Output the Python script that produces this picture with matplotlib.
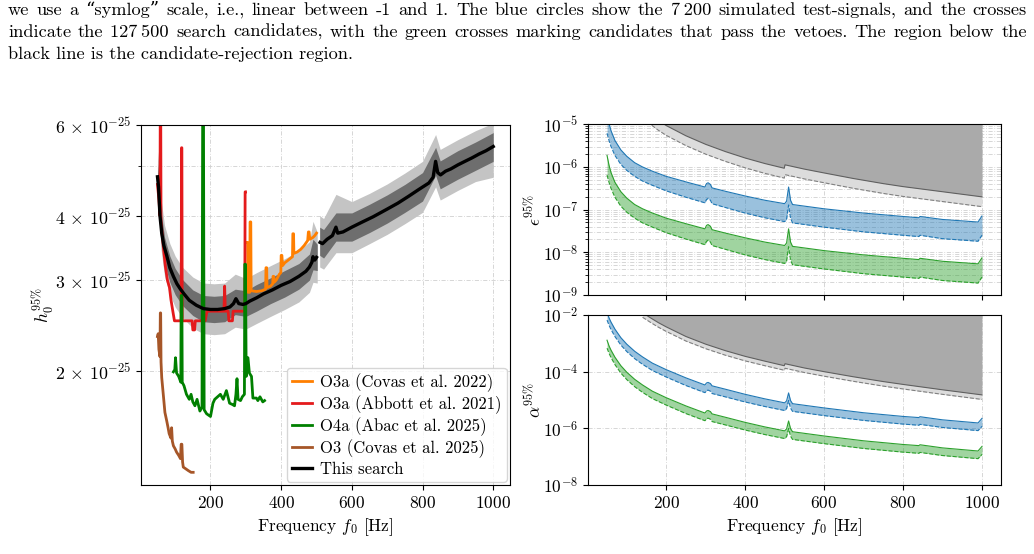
import numpy as np
import matplotlib
matplotlib.use('Agg')
import matplotlib.pyplot as plt
from matplotlib import rcParams
from matplotlib.ticker import FixedLocator, NullFormatter, NullLocator, LogLocator

rcParams['font.family'] = ['cmr10', 'DejaVu Serif']
rcParams['mathtext.fontset'] = 'cm'
rcParams['axes.formatter.use_mathtext'] = True
rcParams['axes.unicode_minus'] = False

W, H = 1034, 554

# ---- caption text above the figure ----
caption = [
    'we use a \u201csymlog\u201d scale, i.e., linear between -1 and 1. The blue circles show the 7\u2009200 simulated test-signals, and the crosses',
    'indicate the 127\u2009500 search candidates, with the green crosses marking candidates that pass the vetoes. The region below the',
    'black line is the candidate-rejection region.',
]

# ---- left panel: h0 upper limits (units of 1e-25) ----
f_black_a = [50, 53, 57, 62, 68, 76, 85, 95, 105, 115, 125, 140, 160, 180, 200, 220, 240, 255, 265, 272,
             280, 292, 300, 311, 330, 350, 375, 400, 425, 450, 470, 480, 487, 490, 495, 500]
h_black_a = [4.76, 4.55, 4.0, 3.7, 3.5, 3.35, 3.17, 3.05, 2.95, 2.88, 2.82, 2.74, 2.68, 2.64, 2.63, 2.63, 2.64, 2.66, 2.70, 2.76,
             2.70, 2.69, 2.70, 2.73, 2.77, 2.82, 2.87, 2.93, 2.98, 3.05, 3.12, 3.18, 3.25, 3.33, 3.28, 3.32]
f_black_b = [510, 517, 530, 545, 555, 560, 575, 600, 630, 660, 700, 730, 760, 790, 818, 830, 837, 843, 851,
             865, 880, 900, 920, 940, 960, 980, 1000]
h_black_b = [3.55, 3.53, 3.6, 3.66, 3.8, 3.7, 3.72, 3.8, 3.89, 3.98, 4.12, 4.23, 4.36, 4.5, 4.63, 4.75, 5.1, 4.85, 4.8,
             4.88, 4.93, 5.02, 5.1, 5.18, 5.27, 5.35, 5.45]

f_band_a = [50, 55, 60, 70, 85, 100, 120, 150, 180, 210, 240, 270, 300, 330, 370, 410, 450, 480, 490, 502]
light_hi_a = [5.33, 4.93, 4.31, 3.83, 3.53, 3.34, 3.18, 3.04, 2.96, 2.95, 2.96, 3.08, 3.02, 3.10, 3.20, 3.30, 3.42, 3.56, 3.90, 3.72]
light_lo_a = [4.25, 3.93, 3.44, 3.05, 2.81, 2.66, 2.54, 2.42, 2.36, 2.35, 2.36, 2.43, 2.41, 2.47, 2.55, 2.63, 2.72, 2.84, 2.97, 2.96]
dark_hi_a = [5.05, 4.66, 4.08, 3.63, 3.34, 3.16, 3.01, 2.87, 2.80, 2.79, 2.80, 2.88, 2.86, 2.94, 3.03, 3.13, 3.23, 3.37, 3.60, 3.52]
dark_lo_a = [4.49, 4.15, 3.63, 3.23, 2.97, 2.81, 2.68, 2.56, 2.49, 2.48, 2.49, 2.57, 2.55, 2.61, 2.70, 2.78, 2.88, 3.00, 3.14, 3.13]
f_band_b = [509, 520, 555, 600, 650, 700, 750, 800, 837, 850, 900, 950, 1000]
light_hi_b = [4.00, 3.95, 4.40, 4.26, 4.42, 4.61, 4.84, 5.10, 5.75, 5.38, 5.62, 5.85, 6.05]
light_lo_b = [3.18, 3.15, 3.39, 3.39, 3.53, 3.68, 3.86, 4.06, 4.55, 4.29, 4.48, 4.66, 4.75]
dark_hi_b = [3.80, 3.76, 4.05, 4.05, 4.21, 4.39, 4.60, 4.85, 5.43, 5.11, 5.35, 5.56, 5.80]
dark_lo_b = [3.35, 3.31, 3.57, 3.57, 3.71, 3.87, 4.06, 4.27, 4.79, 4.51, 4.71, 4.90, 5.10]

f_o3a_covas = [303, 305, 306, 311, 312, 314, 315, 330, 345, 356, 357, 359, 360, 370, 376, 377, 379, 380, 386, 395,
               399, 400, 402, 404, 410, 420, 432, 433, 435, 436, 445, 455, 465, 475, 477, 479, 481, 490, 495, 500]
h_o3a_covas = [3.55, 3.55, 2.84, 2.84, 3.89, 3.89, 2.86, 2.85, 2.86, 2.88, 3.17, 3.17, 2.90, 2.92, 2.95, 3.05, 3.05, 2.97, 3.0, 3.08,
               3.10, 3.35, 3.35, 3.20, 3.24, 3.28, 3.33, 3.69, 3.69, 3.38, 3.40, 3.44, 3.50, 3.58, 3.72, 3.72, 3.60, 3.63, 3.66, 3.70]

f_o3a_abbott = [50, 54, 57, 58, 59, 60, 63, 67, 72, 78, 84, 88, 93, 98, 117, 118, 119, 120, 148, 150,
                155, 157, 185, 190, 238, 240, 242, 250, 252, 262, 264, 297, 298, 299]
h_o3a_abbott = [4.6, 4.3, 4.0, 7.0, 7.0, 3.9, 3.7, 3.45, 3.2, 3.0, 2.9, 2.75, 2.62, 2.5, 2.5, 5.42, 5.42, 2.5, 2.5, 2.4,
                2.4, 2.5, 2.5, 2.61, 2.61, 2.92, 2.61, 2.61, 2.5, 2.5, 2.61, 2.61, 4.45, 4.45]

f_o4a = [95, 99, 101, 104, 110, 116, 117, 119, 120, 125, 132, 140, 145, 150, 156, 162, 170, 176, 178, 180,
         182, 189, 200, 207, 212, 220, 228, 236, 245, 254, 262, 268, 272, 275, 278, 285, 290, 296, 297, 299,
         301, 306, 310, 316, 320, 330, 334, 340, 348, 353]
h_o4a = [1.99, 2.01, 2.12, 1.98, 1.95, 1.90, 2.80, 2.80, 1.90, 1.87, 1.80, 1.76, 1.80, 1.74, 1.71, 1.76, 1.67, 1.70, 7.0, 7.0,
         1.68, 1.65, 1.63, 1.73, 1.76, 1.78, 1.80, 1.76, 1.83, 1.73, 1.72, 1.71, 1.80, 1.93, 1.76, 1.75, 1.78, 1.80, 3.22, 3.22,
         1.95, 2.12, 1.98, 1.95, 1.77, 1.77, 1.75, 1.78, 1.74, 1.75]

f_o3_covas = [50, 52, 54, 57, 58, 59, 60, 62, 67, 71, 76, 80, 83, 88, 90, 92, 95, 100, 104, 110,
              115, 117, 119, 121, 123, 130, 137, 145, 151]
h_o3_covas = [2.33, 2.36, 2.20, 2.13, 2.59, 2.59, 2.08, 1.94, 1.78, 1.66, 1.60, 1.55, 1.51, 1.48, 1.55, 1.46, 1.43, 1.41, 1.39, 1.37,
              1.35, 1.44, 1.44, 1.33, 1.30, 1.29, 1.28, 1.27, 1.27]

# ---- right panels: log10 of epsilon / alpha limits ----
f_sens = [50, 55, 60, 70, 85, 100, 120, 140, 165, 200, 250, 298, 302, 306, 312, 316, 350, 400, 450, 500,
          505, 510, 515, 520, 600, 700, 800, 840, 843, 900, 990, 1000]
eps_blue_hi = [-4.75, -4.98, -5.15, -5.38, -5.60, -5.75, -5.90, -6.00, -6.10, -6.22, -6.35, -6.47, -6.39, -6.37, -6.41, -6.49,
               -6.57, -6.68, -6.78, -6.86, -6.80, -6.47, -6.78, -6.88, -6.98, -7.08, -7.16, -7.19, -7.16, -7.23, -7.29, -7.15]
eps_blue_lo = [-5.21, -5.38, -5.52, -5.73, -5.94, -6.08, -6.22, -6.33, -6.43, -6.56, -6.71, -6.84, -6.76, -6.74, -6.78, -6.86,
               -6.95, -7.08, -7.19, -7.28, -7.22, -6.89, -7.20, -7.31, -7.41, -7.52, -7.60, -7.63, -7.60, -7.68, -7.74, -7.60]
eps_green_hi = [-5.73, -5.96, -6.13, -6.36, -6.58, -6.73, -6.88, -6.98, -7.08, -7.20, -7.33, -7.45, -7.37, -7.35, -7.39, -7.47,
                -7.55, -7.66, -7.76, -7.84, -7.78, -7.45, -7.76, -7.86, -7.96, -8.06, -8.14, -8.17, -8.14, -8.21, -8.27, -8.13]
eps_green_lo = [-6.19, -6.36, -6.50, -6.71, -6.92, -7.06, -7.20, -7.31, -7.41, -7.54, -7.69, -7.82, -7.74, -7.72, -7.76, -7.84,
                -7.93, -8.06, -8.17, -8.26, -8.20, -7.87, -8.18, -8.29, -8.39, -8.50, -8.58, -8.61, -8.58, -8.66, -8.72, -8.58]

alpha_blue_hi = [-1.90, -2.10, -2.25, -2.50, -2.80, -3.03, -3.28, -3.48, -3.70, -3.93, -4.22, -4.47, -4.40, -4.38, -4.42, -4.50,
                 -4.62, -4.80, -4.96, -5.10, -5.03, -4.75, -5.02, -5.13, -5.28, -5.45, -5.58, -5.62, -5.59, -5.70, -5.81, -5.65]
alpha_blue_lo = [-2.18, -2.36, -2.51, -2.76, -3.06, -3.29, -3.54, -3.74, -3.96, -4.19, -4.49, -4.74, -4.67, -4.65, -4.69, -4.77,
                 -4.89, -5.07, -5.23, -5.37, -5.30, -5.02, -5.29, -5.40, -5.55, -5.72, -5.85, -5.89, -5.86, -5.97, -6.08, -5.93]
alpha_green_hi = [-2.89, -3.09, -3.24, -3.49, -3.79, -4.02, -4.27, -4.47, -4.69, -4.92, -5.21, -5.46, -5.39, -5.37, -5.41, -5.49,
                  -5.61, -5.79, -5.95, -6.09, -6.02, -5.74, -6.01, -6.12, -6.27, -6.44, -6.57, -6.61, -6.58, -6.69, -6.80, -6.64]
alpha_green_lo = [-3.17, -3.35, -3.50, -3.75, -4.05, -4.28, -4.53, -4.73, -4.95, -5.18, -5.48, -5.73, -5.66, -5.64, -5.68, -5.76,
                  -5.88, -6.06, -6.22, -6.36, -6.29, -6.01, -6.28, -6.39, -6.54, -6.71, -6.84, -6.88, -6.85, -6.96, -7.07, -6.92]

f_gray = [140, 160, 180, 200, 250, 300, 350, 400, 450, 499, 501, 550, 600, 674, 750, 800, 900, 1000]
eps_gray_solid = [-4.62, -4.77, -4.91, -5.03, -5.27, -5.47, -5.64, -5.79, -5.92, -6.03, -5.95, -6.05, -6.14, -6.27, -6.39, -6.46, -6.58, -6.70]
eps_gray_dash = [-4.85, -5.00, -5.14, -5.26, -5.50, -5.70, -5.87, -6.02, -6.15, -6.26, -6.18, -6.28, -6.37, -6.50, -6.62, -6.69, -6.81, -6.93]
alpha_gray_solid = [-1.92, -2.10, -2.27, -2.42, -2.76, -3.03, -3.26, -3.46, -3.63, -3.79, -3.72, -3.87, -4.00, -4.18, -4.35, -4.45, -4.64, -4.82]
alpha_gray_dash = [-2.08, -2.26, -2.43, -2.58, -2.92, -3.19, -3.42, -3.62, -3.79, -3.95, -3.88, -4.03, -4.16, -4.34, -4.51, -4.61, -4.80, -4.98]

# colours
c_orange, c_red, c_green, c_brown = '#ff7f00', '#e41a1c', '#008000', '#a65628'
c_blue_fill, c_green_fill = '#1f77b4', '#2ca02c'

fig = plt.figure(figsize=(W / 100, H / 100), dpi=100)

# caption, justified like the paper
renderer = fig.canvas.get_renderer()
cap_size = 13.2
for i, line in enumerate(caption):
    yb = 1 - (15 + 22 * i) / H
    if i < 2:
        words = line.split(' ')
        arts = [fig.text(0, yb, w, fontsize=cap_size, va='baseline') for w in words]
        widths = [a.get_window_extent(renderer).width for a in arts]
        gap = (1027 - 8 - sum(widths)) / (len(words) - 1)
        x = 8
        for a, w in zip(arts, widths):
            a.set_x(x / W)
            x += w + gap
    else:
        fig.text(8 / W, yb, line, fontsize=cap_size, va='baseline')

tick_fs = 12.5
lab_fs = 12.5

def style_grid(ax, which='major'):
    ax.set_axisbelow(True)
    ax.grid(True, which=which, color='#d0d0d0', linestyle=(0, (5, 2, 1, 2)), linewidth=0.6)

# ---- left panel ----
axL = fig.add_axes([140.7 / W, 1 - 485 / H, (510 - 140.7) / W, (485 - 125) / H])
axL.set_yscale('log')
s = 1e-25
axL.fill_between(f_band_a, np.array(light_lo_a) * s, np.array(light_hi_a) * s, color='#c4c4c4', lw=0)
axL.fill_between(f_band_b, np.array(light_lo_b) * s, np.array(light_hi_b) * s, color='#c4c4c4', lw=0)
axL.fill_between(f_band_a, np.array(dark_lo_a) * s, np.array(dark_hi_a) * s, color='#6e6e6e', lw=0)
axL.fill_between(f_band_b, np.array(dark_lo_b) * s, np.array(dark_hi_b) * s, color='#6e6e6e', lw=0)
axL.plot(f_o3a_covas, np.array(h_o3a_covas) * s, color=c_orange, lw=2, label='O3a (Covas et al. 2022)')
axL.plot(f_o3a_abbott, np.array(h_o3a_abbott) * s, color=c_red, lw=2, label='O3a (Abbott et al. 2021)')
axL.plot(f_o4a, np.array(h_o4a) * s, color=c_green, lw=2, label='O4a (Abac et al. 2025)')
axL.plot(f_o3_covas, np.array(h_o3_covas) * s, color=c_brown, lw=2, label='O3 (Covas et al. 2025)')
axL.plot(f_black_a, np.array(h_black_a) * s, color='black', lw=2.4, label='This search', zorder=5)
axL.plot(f_black_b, np.array(h_black_b) * s, color='black', lw=2.4, zorder=5)
axL.set_xlim(2.5, 1047.5)
axL.set_ylim(1.2e-25, 6e-25)
axL.yaxis.set_major_locator(FixedLocator([2e-25, 3e-25, 4e-25, 6e-25]))
axL.yaxis.set_minor_locator(FixedLocator([5e-25]))
axL.yaxis.set_minor_formatter(NullFormatter())
axL.set_yticklabels([r'$2\,\times\,10^{-25}$', r'$3\,\times\,10^{-25}$', r'$4\,\times\,10^{-25}$', r'$6\,\times\,10^{-25}$'])
axL.set_xticks([200, 400, 600, 800, 1000])
axL.tick_params(labelsize=tick_fs)
axL.tick_params(axis='y', labelsize=12.8)
style_grid(axL, 'both')
axL.set_xlabel(r'Frequency $f_0$ [Hz]', fontsize=lab_fs)
axL.set_ylabel(r'$h_0^{95\%}$', fontsize=lab_fs)
axL.yaxis.set_label_coords(-0.228, 0.5)
axL.legend(loc='lower right', fontsize=12, labelspacing=0.2, handlelength=1.2,
           handletextpad=0.5, borderaxespad=0.2, borderpad=0.3)

# ---- right panels ----
def sens_panel(rect, blue_hi, blue_lo, green_hi, green_lo, g_solid, g_dash, ylim):
    ax = fig.add_axes(rect)
    ax.set_yscale('log')
    top = 10.0 ** (np.log10(ylim[1]) + 1)
    gs = np.power(10.0, g_solid)
    gd = np.power(10.0, g_dash)
    ax.fill_between(f_gray, gs, top, color='#aaaaaa', lw=0)
    ax.fill_between(f_gray, gd, gs, color='#dcdcdc', lw=0)
    ax.plot(f_gray, gs, color='#606060', lw=0.8)
    ax.plot(f_gray, gd, color='#808080', lw=0.8, ls='--')
    for hi, lo, c in [(blue_hi, blue_lo, c_blue_fill), (green_hi, green_lo, c_green_fill)]:
        h = np.power(10.0, hi)
        l = np.power(10.0, lo)
        ax.fill_between(f_sens, l, h, color=c, alpha=0.45, lw=0)
        ax.plot(f_sens, h, color=c, lw=0.8)
        ax.plot(f_sens, l, color=c, lw=0.8, ls='--')
    ax.set_xlim(2.5, 1047.5)
    ax.set_ylim(*ylim)
    ax.set_xticks([200, 400, 600, 800, 1000])
    ax.tick_params(labelsize=tick_fs)
    return ax

axE = sens_panel([588.3 / W, 1 - 295 / H, (1000.7 - 588.3) / W, (295 - 124.3) / H],
                 eps_blue_hi, eps_blue_lo, eps_green_hi, eps_green_lo,
                 eps_gray_solid, eps_gray_dash, (1e-9, 1e-5))
axE.yaxis.set_major_locator(LogLocator(base=10, numticks=10))
axE.yaxis.set_minor_locator(LogLocator(base=10, subs=np.arange(2, 10), numticks=10))
axE.yaxis.set_minor_formatter(NullFormatter())
axE.tick_params(labelbottom=False)
style_grid(axE, 'both')
axE.set_ylabel(r'$\epsilon^{95\%}$', fontsize=lab_fs)
axE.yaxis.set_label_coords(-0.11, 0.5)

axA = sens_panel([588.3 / W, 1 - 485 / H, (1000.7 - 588.3) / W, (485 - 315) / H],
                 alpha_blue_hi, alpha_blue_lo, alpha_green_hi, alpha_green_lo,
                 alpha_gray_solid, alpha_gray_dash, (1e-8, 1e-2))
axA.yaxis.set_major_locator(FixedLocator([1e-8, 1e-6, 1e-4, 1e-2]))
axA.yaxis.set_minor_locator(NullLocator())
style_grid(axA)
axA.set_xlabel(r'Frequency $f_0$ [Hz]', fontsize=lab_fs)
axA.set_ylabel(r'$\alpha^{95\%}$', fontsize=lab_fs)
axA.yaxis.set_label_coords(-0.11, 0.5)

fig.savefig('out.png', dpi=100)
